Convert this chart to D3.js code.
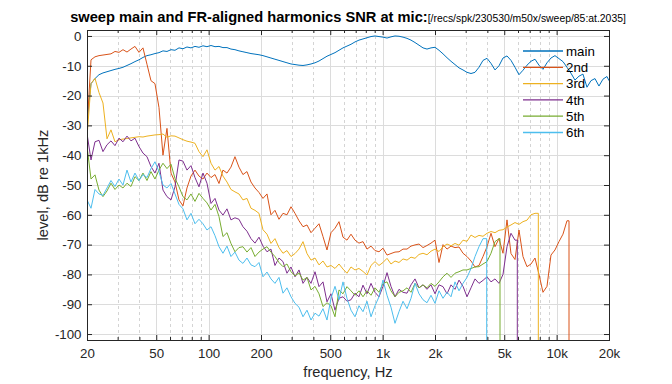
<!DOCTYPE html>
<meta charset="utf-8">
<head>
  <title>sweep main and FR-aligned harmonics SNR</title>
  <script src="https://d3js.org/d3.v7.min.js"></script>
  <style>
    body { margin: 0; background: #fff; }
    text { font-family: "Liberation Sans", Arial, Helvetica, sans-serif; }
  </style>
</head>
<body>
<svg id="chart" width="672" height="384"></svg>
<script>
// shared frequency grid (Hz)
var freq = [20,21.09,22.23,23.44,24.71,26.06,27.47,28.96,30.54,32.2,
  33.95,35.79,37.74,39.79,41.95,44.23,46.63,49.17,51.84,54.66,
  57.63,60.78,64.08,67.56,71.23,75.1,79.18,83.49,88.02,92.81,
  97.85,103.2,108.8,114.7,120.9,127.5,134.4,141.7,149.4,157.5,
  166.1,175.2,184.7,194.7,205.3,216.5,228.2,240.6,253.7,267.5,
  282,297.5,313.7,330.7,348.7,367.6,387.6,408.7,430.9,454.3,
  479,505,532.5,561.4,591.9,624,658,693.7,731.4,771.2,
  813.1,857.6,904.2,953.3,1005,1060,1117,1178,1242,1310,
  1381,1456,1535,1619,1707,1799,1897,2000,2109,2224,
  2345,2472,2606,2748,2897,3055,3221,3396,3580,3775,
  3980,4197,4425,4665,4918,5186,5467,5765,6078,6408,
  6757,7124,7511,7919,8349,8803,9281,9785,10317,10877,
  11468,12091,12748,13441,14171,14941,15753,16609,17511,18463,
  19466,20000];

// levels, dB re 1kHz
var mainDb = [-29,-16,-14.3,-13,-12.4,-12,-11.6,-11.2,-10.9,-10.5,
  -9.9,-9.3,-8.6,-8,-7.2,-6.6,-6.3,-5.9,-5.6,-5,
  -5.2,-4.6,-4.8,-4,-4.3,-3.7,-4,-3.5,-3.8,-3.3,
  -3.6,-3.2,-3.6,-3.5,-3.9,-3.9,-4.4,-4.6,-5,-5.3,
  -5.6,-5.9,-6.1,-6.3,-6.6,-7,-7.4,-7.8,-8.2,-8.6,
  -9,-9.4,-9.6,-9.8,-9.9,-9.7,-9.4,-9,-8.4,-7.6,
  -6.8,-6.2,-5.6,-4.8,-4,-3.4,-2.8,-2,-1.4,-1,
  -0.6,-0.2,0,-0.2,-0.4,-0.7,-0.3,0,-0.1,-0.4,
  -0.8,-1.4,-2.2,-3.1,-4,-4.4,-4,-3.8,-4.8,-6,
  -7.3,-8.5,-9.6,-10.7,-11.4,-12.2,-12.6,-12.2,-10.5,-8.2,
  -7.5,-9.2,-11.4,-10,-7.4,-6.7,-8.2,-10.5,-13,-11.5,
  -9.8,-8.5,-7.8,-9.8,-11.2,-9,-7.4,-6.6,-7.6,-8.6,
  -10.5,-12.5,-14.8,-13.5,-12.8,-17.2,-15,-14.3,-16.8,-14.5,
  -13.6,-15];

var h2Db = [-31,-8,-7,-6.6,-6.4,-6.2,-6,-5.2,-5.5,-4.6,
  -5.4,-4.4,-3.5,-5.5,-4,-9.5,-15,-16,-24,-40,
  -31,-46,-49,-55,-57,-51,-47,-45,-47,-48,
  -46,-47.5,-46.5,-49.5,-45,-46,-44,-40.5,-44,-46.5,
  -45.5,-49,-51,-52.5,-54.5,-53,-60,-58.5,-61.5,-59.5,
  -60,-57.3,-59.5,-62,-64,-63.4,-66,-64.5,-63,-67.3,
  -71.8,-66,-64.5,-62.3,-67.5,-68.5,-66.5,-68.5,-69.5,-69,
  -71.5,-70.5,-72,-72.4,-71.2,-73.5,-73,-72.5,-72.4,-71.5,
  -71.5,-70.5,-70.1,-69.8,-71,-70.3,-69.5,-68.5,-76,-70,
  -71.5,-70.5,-71,-70.8,-72.9,-74,-75.5,-77.5,-77,-74,
  -70.7,-66.2,-70.7,-68,-72.9,-61.7,-73,-75,-65.1,-74,
  -77.4,-76.5,-74.5,-80,-86,-84,-73.5,-71.8,-69,-66.5,
  -62];

var h3Db = [-34,-16,-14.2,-19,-22.5,-34.5,-31.5,-35.5,-34.8,-34.6,
  -34.4,-34.2,-34,-33.8,-33.9,-33.6,-33.4,-33.2,-33.1,-32.9,
  -34,-33.5,-33.6,-34.2,-34.8,-35.3,-35.6,-36,-38.8,-40.5,
  -38.2,-42.7,-45,-43.8,-47,-49,-51.5,-52.3,-53,-55,
  -54.5,-57.8,-58.5,-59.5,-65,-66.5,-69.6,-68,-71,-72.9,
  -72,-74,-73,-71.5,-69,-73,-75.2,-74.5,-76.8,-75.5,
  -77.5,-77,-78,-76.5,-78.2,-79.6,-77.5,-78.5,-78,-79,
  -80.2,-77,-75.7,-77,-76,-74.6,-76.5,-75.5,-76,-74.8,
  -75.2,-74.2,-74.6,-73.3,-72.9,-73.4,-72.2,-71.5,-72.3,-70.7,
  -69.8,-70.4,-69.6,-70.2,-68.5,-68.9,-66.8,-67.6,-66.9,-67.2,
  -66.2,-65.6,-66,-65.2,-65,-64.1,-63.4,-62.6,-63.2,-62.3,
  -61.8,-60,-59.5];

var h4Db = [-32.7,-41.6,-35.5,-35,-38.8,-36.5,-35.2,-36.8,-34.3,-35.5,
  -33.6,-35.2,-34.3,-37.1,-39.3,-40.5,-43.8,-46,-42.7,-51.7,
  -53.9,-55,-50.6,-41.6,-42,-45,-43.5,-47.5,-50.6,-46,
  -49.4,-56.2,-54.5,-58.4,-60.1,-58,-61.7,-61,-61.5,-64,
  -65.5,-68,-69.5,-67.5,-70.5,-72.4,-71.5,-77,-74.5,-75.7,
  -79.6,-77.5,-80.8,-78.5,-83,-81,-83,-79.1,-84.1,-82.5,
  -89.2,-86.5,-92,-88,-87.5,-89,-88.5,-86.3,-87.5,-83.6,
  -86.5,-83,-86,-87.5,-84,-79.4,-84,-87.5,-85,-86,
  -86.3,-83.5,-81.5,-84.5,-83.5,-85,-83.5,-86.5,-83.5,-84.1,
  -86.5,-83.5,-85,-81.9,-84,-87.5,-84.5,-81.5,-83,-82,
  -80.8,-82.5,-81.5,-83,-80,-70.7,-66.2,-68.5];

var h5Db = [-37,-48,-46.6,-51.7,-53.9,-52,-49.4,-51.5,-50,-51,
  -49.4,-50.5,-47.2,-48.5,-46,-48.5,-45.5,-48,-45,-42.7,
  -44.5,-43,-47.8,-50.6,-53.9,-55,-53,-55.5,-52.8,-54.5,
  -56,-58.4,-56.5,-60.6,-67.3,-66,-69.6,-72.4,-71,-70.7,
  -72.5,-71,-74,-72.5,-71.5,-70.7,-72.5,-74,-76,-77.4,
  -76.5,-79.1,-80.5,-79.5,-81.9,-81,-85.2,-84,-86.5,-90.8,
  -89.5,-90.5,-94.2,-85.2,-86.5,-84.1,-85.5,-87,-85.5,-87.5,
  -85.5,-87,-84.5,-86,-83,-82.5,-85.5,-87.5,-86,-85.5,
  -84.5,-86,-83,-84.5,-83.5,-84.5,-83,-84,-82.5,-80.8,
  -79.6,-81,-79.6,-79.1,-78.5,-78.5,-78,-77.5,-77.4,-76.5,
  -75.7,-72.9,-69,-68];

var h6Db = [-55,-57.8,-51.5,-53,-53.5,-51,-48.5,-50.5,-48,-50,
  -45,-49,-46,-48.5,-46.5,-47.5,-44.5,-42.2,-45.5,-50,
  -51,-49.5,-53,-56.5,-58,-61.7,-59.5,-63,-61.5,-63,
  -65.1,-64,-67,-70.7,-72.9,-70.5,-74,-72.5,-75.2,-76.3,
  -74.5,-76.8,-77.4,-76,-80.8,-79.2,-81.5,-83,-81,-86.3,
  -84.5,-87.5,-89.7,-91,-94.2,-92,-95.3,-93,-94,-91.5,
  -95.3,-88,-84,-88.5,-82.5,-88,-92,-94.2,-90.5,-92.5,
  -89,-94.2,-90.5,-87.5,-81.9,-87,-91,-96.4,-92.5,-89,
  -91.5,-88,-83,-86.5,-88.5,-89.5,-87,-89.7,-85.5,-88,
  -86,-87.5,-82.5,-85.5,-83,-81,-78,-74,-70.7,-68];

var seriesNames = ["main", "2nd", "3rd", "4th", "5th", "6th"];
var seriesColors = ["#0072BD", "#D95319", "#EDB120", "#7E2F8E", "#77AC30", "#4DBEEE"];
// frequency where each harmonic trace falls off the bottom
var dropFreq = [null, 11780, 7850, 5944, 4728, 3964];

var xTicks = [20, 50, 100, 200, 500, 1000, 2000, 5000, 10000, 20000];
var xTickLabels = ["20", "50", "100", "200", "500", "1k", "2k", "5k", "10k", "20k"];
var yTicks = [0, -10, -20, -30, -40, -50, -60, -70, -80, -90, -100];

var svg = d3.select("#chart");
var plotL = 87, plotR = 609, plotT = 30, plotB = 340;

var x = d3.scaleLog().domain([20, 20000]).range([plotL, plotR]);
var y = d3.scaleLinear().domain([-102, 2]).range([plotB, plotT]);

var isMajor = function(t) {
  return xTicks.some(function(m) { return Math.abs(m - t) < 1e-6 * m; });
};
var minorTicks = x.ticks().filter(function(t) { return !isMajor(t); });

svg.append("rect").attr("width", 672).attr("height", 384).attr("fill", "#fff");

// grid
var grid = svg.append("g");
grid.selectAll(".minor")
  .data(minorTicks)
  .enter().append("line")
    .attr("x1", function(d) { return Math.round(x(d)) + 0.5; })
    .attr("x2", function(d) { return Math.round(x(d)) + 0.5; })
    .attr("y1", plotT).attr("y2", plotB)
    .attr("stroke", "#d4d4d4")
    .attr("stroke-dasharray", "3,3");
grid.selectAll(".majx")
  .data(xTicks.slice(1, -1))
  .enter().append("line")
    .attr("x1", function(d) { return Math.round(x(d)) + 0.5; })
    .attr("x2", function(d) { return Math.round(x(d)) + 0.5; })
    .attr("y1", plotT).attr("y2", plotB)
    .attr("stroke", "#dcdcdc");
grid.selectAll(".majy")
  .data(yTicks)
  .enter().append("line")
    .attr("x1", plotL).attr("x2", plotR)
    .attr("y1", function(d) { return Math.round(y(d)) + 0.5; })
    .attr("y2", function(d) { return Math.round(y(d)) + 0.5; })
    .attr("stroke", "#dcdcdc");

// traces
svg.append("clipPath").attr("id", "plotclip")
  .append("rect").attr("x", plotL).attr("y", plotT)
  .attr("width", plotR - plotL).attr("height", plotB - plotT);

var line = d3.line()
  .x(function(d) { return x(d[0]); })
  .y(function(d) { return y(d[1]); });

var allSeries = [mainDb, h2Db, h3Db, h4Db, h5Db, h6Db];
var traces = svg.append("g").attr("clip-path", "url(#plotclip)");
allSeries.forEach(function(vals, i) {
  var pts = vals.map(function(v, k) { return [freq[k], v]; });
  if (dropFreq[i]) {
    pts.push([dropFreq[i], vals[vals.length - 1]]);
    pts.push([dropFreq[i], -130]);
  }
  traces.append("path")
    .attr("d", line(pts))
    .attr("fill", "none")
    .attr("stroke", seriesColors[i])
    .attr("stroke-width", 1)
    .attr("stroke-linejoin", "round");
});

// axes with inward ticks
var axisColor = "#262626";
function styleAxis(g) {
  g.select(".domain").remove();
  g.selectAll("line").attr("stroke", axisColor);
  g.selectAll("text")
    .attr("fill", axisColor)
    .style("font-size", "13.3px")
    .style("font-family", '"Liberation Sans", Arial, Helvetica, sans-serif');
}

svg.append("g").attr("transform", "translate(0," + plotB + ")")
  .call(d3.axisBottom(x).tickValues(xTicks).tickSize(-5).tickPadding(9)
    .tickFormat(function(d, i) { return xTickLabels[i]; }))
  .call(styleAxis);
svg.append("g").attr("transform", "translate(0," + plotB + ")")
  .call(d3.axisBottom(x).tickValues(minorTicks).tickSize(-3).tickFormat(""))
  .call(styleAxis);
svg.append("g").attr("transform", "translate(0," + plotT + ")")
  .call(d3.axisTop(x).tickValues(xTicks).tickSize(-5).tickFormat(""))
  .call(styleAxis);
svg.append("g").attr("transform", "translate(0," + plotT + ")")
  .call(d3.axisTop(x).tickValues(minorTicks).tickSize(-3).tickFormat(""))
  .call(styleAxis);
svg.append("g").attr("transform", "translate(" + plotL + ",0)")
  .call(d3.axisLeft(y).tickValues(yTicks).tickSize(-5).tickPadding(5.5)
    .tickFormat(function(d) { return String(d); }))
  .call(styleAxis);
svg.append("g").attr("transform", "translate(" + plotR + ",0)")
  .call(d3.axisRight(y).tickValues(yTicks).tickSize(-5).tickFormat(""))
  .call(styleAxis);

svg.append("rect")
  .attr("x", plotL + 0.5).attr("y", plotT + 0.5)
  .attr("width", plotR - plotL).attr("height", plotB - plotT)
  .attr("fill", "none").attr("stroke", axisColor).attr("stroke-width", 1);

// legend (no box)
var legend = svg.selectAll(".legend")
  .data(seriesNames)
  .enter().append("g")
    .attr("class", "legend")
    .attr("transform", function(d, i) { return "translate(523," + (51 + i * 16.3) + ")"; });
legend.append("line")
  .attr("x1", 0).attr("x2", 40)
  .attr("stroke", function(d, i) { return seriesColors[i]; })
  .attr("stroke-width", 1.3);
legend.append("text")
  .attr("x", 43).attr("dy", "0.35em")
  .style("font-size", "13.3px")
  .attr("fill", "#000")
  .text(function(d) { return d; });

// labels
var title = svg.append("text")
  .attr("x", (plotL + plotR) / 2).attr("y", 22)
  .attr("text-anchor", "middle").attr("fill", "#000");
title.append("tspan").style("font-weight", "bold").style("font-size", "14.67px")
  .text("sweep main and FR-aligned harmonics SNR at mic:");
title.append("tspan").style("font-size", "10.4px")
  .text("[/recs/spk/230530/m50x/sweep/85:at.2035]");

svg.append("text")
  .attr("x", (plotL + plotR) / 2).attr("y", 377)
  .attr("text-anchor", "middle").attr("fill", axisColor)
  .style("font-size", "14.67px")
  .text("frequency, Hz");

svg.append("text")
  .attr("transform", "translate(42.5," + ((plotT + plotB) / 2) + ") rotate(-90)")
  .attr("text-anchor", "middle").attr("dy", "0.35em").attr("fill", axisColor)
  .style("font-size", "14.67px")
  .text("level, dB re 1kHz");
</script>
</body>
